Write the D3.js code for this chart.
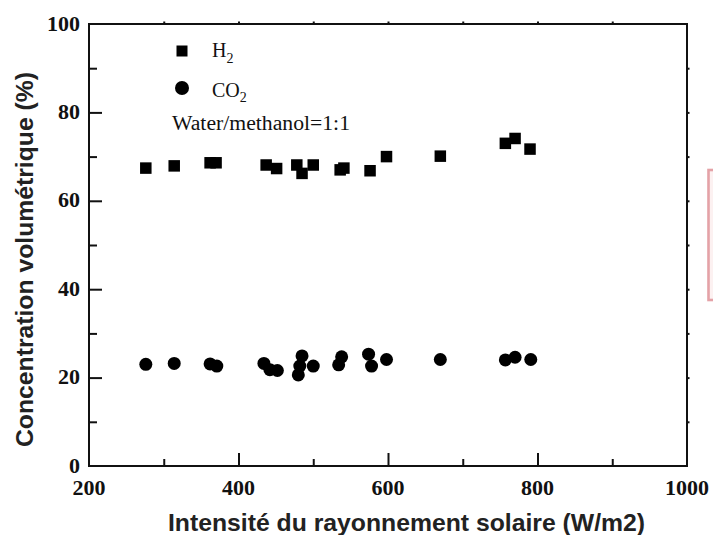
<!DOCTYPE html>
<html>
<head>
<meta charset="utf-8">
<script src="https://cdn.jsdelivr.net/npm/d3@7"></script>
<style>
  html, body { margin: 0; padding: 0; background: #fff; }
  svg { display: block; }
</style>
</head>
<body>
<svg id="chart" width="713" height="535"></svg>
<script>
// Solar irradiance (W/m2) vs. volumetric gas concentration (%)
const h2Irradiance  = [276, 314, 362, 370, 437, 451, 478, 485, 500, 536, 541, 576, 598, 670, 757, 770, 790];
const h2Percent     = [67.4, 67.9, 68.6, 68.6, 68.1, 67.3, 68.1, 66.2, 68.1, 67.0, 67.4, 66.8, 70.0, 70.1, 73.0, 74.1, 71.7];
const co2Irradiance = [276, 314, 362, 371, 434, 442, 452, 480, 482, 485, 500, 534, 538, 574, 578, 598, 670, 757, 770, 791];
const co2Percent    = [23.0, 23.2, 23.1, 22.6, 23.2, 21.8, 21.6, 20.6, 22.6, 24.9, 22.6, 22.9, 24.7, 25.3, 22.6, 24.1, 24.1, 24.0, 24.6, 24.1];

const xTickValues = [200, 400, 600, 800, 1000];
const yTickValues = [0, 20, 40, 60, 80, 100];
const xMinorValues = [300, 500, 700, 900];
const yMinorValues = [10, 30, 50, 70, 90];

const xTitle = "Intensité du rayonnement solaire (W/m2)";
const yTitle = "Concentration volumétrique (%)";
const noteText = "Water/methanol=1:1";

const svg = d3.select("#chart");
const plotLeft = 89, plotRight = 687, plotTop = 24, plotBottom = 466;

const x = d3.scaleLinear().domain([200, 1000]).range([plotLeft, plotRight]);
const y = d3.scaleLinear().domain([0, 100]).range([plotBottom, plotTop]);

const serif = "'Liberation Serif', 'Times New Roman', serif";
const sans = "'Liberation Sans', Arial, sans-serif";
const ink = "#111";

// soft edges on the markers
const defs = svg.append("defs");
defs.append("filter").attr("id", "soft")
  .append("feGaussianBlur").attr("stdDeviation", 0.55);

// partial pink frame at the right edge
svg.append("rect")
  .attr("x", 708.5).attr("y", 170).attr("width", 30).attr("height", 130)
  .attr("fill", "#fcf1f1").attr("stroke", "#e4a2a7").attr("stroke-width", 2.6);

// frame
svg.append("rect")
  .attr("x", plotLeft).attr("y", plotTop)
  .attr("width", plotRight - plotLeft).attr("height", plotBottom - plotTop)
  .attr("fill", "none").attr("stroke", ink).attr("stroke-width", 2);

// bottom axis: inward ticks
const bottomAxis = svg.append("g").attr("transform", `translate(0,${plotBottom})`)
  .call(d3.axisTop(x).tickValues(xTickValues.slice(1, -1)).tickSize(13).tickFormat(""));
const bottomMinor = svg.append("g").attr("transform", `translate(0,${plotBottom})`)
  .call(d3.axisTop(x).tickValues(xMinorValues).tickSize(7).tickFormat(""));
// left axis: inward ticks
const leftAxis = svg.append("g").attr("transform", `translate(${plotLeft},0)`)
  .call(d3.axisRight(y).tickValues(yTickValues.slice(1, -1)).tickSize(13).tickFormat(""));
const leftMinor = svg.append("g").attr("transform", `translate(${plotLeft},0)`)
  .call(d3.axisRight(y).tickValues(yMinorValues).tickSize(8).tickFormat(""));
// top and right axes: small outward ticks
const topAxis = svg.append("g").attr("transform", `translate(0,${plotTop})`)
  .call(d3.axisTop(x).tickValues(xMinorValues.concat(xTickValues.slice(1, -1))).tickSize(2.5).tickFormat(""));
const rightAxis = svg.append("g").attr("transform", `translate(${plotRight},0)`)
  .call(d3.axisRight(y).tickValues(yMinorValues.concat(yTickValues.slice(1, -1))).tickSize(2.5).tickFormat(""));

[bottomAxis, bottomMinor, leftAxis, leftMinor, topAxis, rightAxis].forEach(g => {
  g.select(".domain").remove();
  g.selectAll(".tick line").attr("stroke", ink).attr("stroke-width", 2);
});

// tick labels
svg.append("g").selectAll("text").data(xTickValues).join("text")
  .attr("x", d => x(d)).attr("y", 495)
  .attr("text-anchor", "middle")
  .attr("font-family", serif).attr("font-weight", "bold").attr("font-size", 22)
  .attr("fill", ink)
  .text(d => d);

svg.append("g").selectAll("text").data(yTickValues).join("text")
  .attr("x", 80).attr("y", d => y(d) + 6.5)
  .attr("text-anchor", "end")
  .attr("font-family", serif).attr("font-weight", "bold").attr("font-size", 22)
  .attr("fill", ink)
  .text(d => d);

// axis titles
svg.append("text")
  .attr("x", 168).attr("y", 531)
  .attr("font-family", sans).attr("font-weight", "bold").attr("font-size", 24)
  .attr("textLength", 477).attr("lengthAdjust", "spacingAndGlyphs")
  .attr("fill", "#222")
  .text(xTitle);

svg.append("text")
  .attr("transform", "translate(33,447) rotate(-90)")
  .attr("x", 0).attr("y", 0)
  .attr("font-family", sans).attr("font-weight", "bold").attr("font-size", 24.5)
  .attr("textLength", 375).attr("lengthAdjust", "spacingAndGlyphs")
  .attr("fill", "#222")
  .text(yTitle);

// data markers
const marks = svg.append("g").attr("filter", "url(#soft)").attr("fill", "#000");
const sq = 11.5;
marks.selectAll("rect.h2").data(h2Irradiance).join("rect")
  .attr("class", "h2")
  .attr("x", d => x(d) - sq / 2)
  .attr("y", (d, i) => y(h2Percent[i]) - sq / 2)
  .attr("width", sq).attr("height", sq);

marks.selectAll("circle.co2").data(co2Irradiance).join("circle")
  .attr("class", "co2")
  .attr("cx", d => x(d))
  .attr("cy", (d, i) => y(co2Percent[i]))
  .attr("r", 6.5);

// legend
const legend = svg.append("g");
legend.append("rect").attr("x", 182 - 5.5).attr("y", 51 - 5.5).attr("width", 11).attr("height", 11)
  .attr("fill", "#000").attr("filter", "url(#soft)");
legend.append("circle").attr("cx", 182).attr("cy", 88).attr("r", 7)
  .attr("fill", "#000").attr("filter", "url(#soft)");

function chemLabel(base, sub, xPos, yPos) {
  const t = legend.append("text")
    .attr("x", xPos).attr("y", yPos)
    .attr("font-family", serif).attr("font-size", 20).attr("fill", ink);
  t.append("tspan").text(base);
  t.append("tspan").attr("dy", 5.5).attr("font-size", 14).text(sub);
}
chemLabel("H", "2", 212, 57);
chemLabel("CO", "2", 212, 96.5);

legend.append("text")
  .attr("x", 172).attr("y", 130)
  .attr("font-family", serif).attr("font-size", 20).attr("fill", ink)
  .attr("textLength", 178).attr("lengthAdjust", "spacingAndGlyphs")
  .text(noteText);
</script>
</body>
</html>
